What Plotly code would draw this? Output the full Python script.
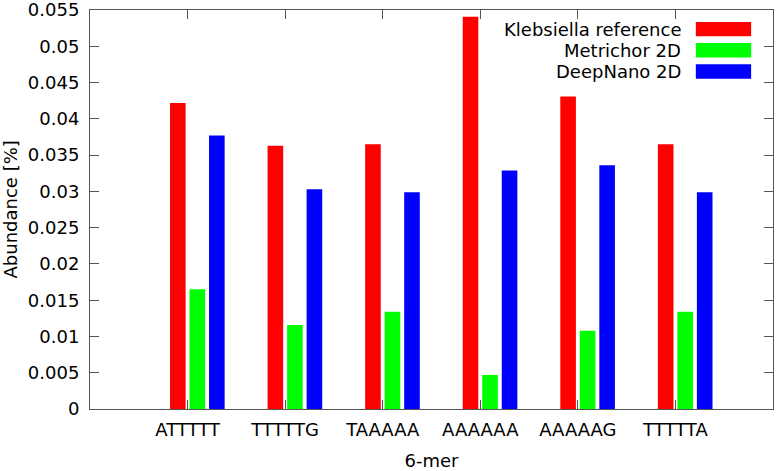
import plotly.graph_objects as go

categories = ["ATTTTT", "TTTTTG", "TAAAAA", "AAAAAA", "AAAAAG", "TTTTTA"]
klebsiella = [0.0422, 0.0363, 0.0365, 0.0541, 0.0431, 0.0365]
metrichor = [0.0165, 0.0116, 0.0134, 0.0047, 0.0108, 0.0134]
deepnano = [0.0377, 0.0303, 0.0299, 0.0329, 0.0336, 0.0299]
series_names = ["Klebsiella reference", "Metrichor 2D", "DeepNano 2D"]
colors = ["#ff0000", "#00ff00", "#0000ff"]
offsets = [-0.18, 0.02, 0.22]
y_ticks = [0, 0.005, 0.01, 0.015, 0.02, 0.025, 0.03, 0.035, 0.04, 0.045, 0.05, 0.055]
y_tick_labels = ["0", "0.005", "0.01", "0.015", "0.02", "0.025", "0.03", "0.035", "0.04", "0.045", "0.05", "0.055"]

FONT = "DejaVu Sans"
FS = 18
fig = go.Figure()
for name, vals, col, off in zip(series_names, [klebsiella, metrichor, deepnano], colors, offsets):
    fig.add_trace(go.Bar(
        x=categories, y=vals, name=name,
        marker=dict(color=col, line=dict(width=0)),
        width=0.16, offset=off, showlegend=False,
    ))

# gnuplot-style legend: text right-aligned, swatch on the right
leg_y = [0.952, 0.899, 0.846]
for name, col, yy in zip(series_names, colors, leg_y):
    fig.add_annotation(x=0.868, y=yy, xref="paper", yref="paper", text=name,
                       showarrow=False, xanchor="right", yanchor="middle",
                       font=dict(family=FONT, size=FS, color="black"))
    fig.add_shape(type="rect", xref="paper", yref="paper",
                  x0=0.887, x1=0.968, y0=yy - 0.018, y1=yy + 0.018,
                  fillcolor=col, line=dict(width=0))

# y-axis title placed like gnuplot's
fig.add_annotation(x=-0.1157, y=0.5, xref="paper", yref="paper", text="Abundance [%]",
                   textangle=-90, showarrow=False, xanchor="center", yanchor="middle",
                   font=dict(family=FONT, size=FS, color="black"))

axis_common = dict(showline=True, linecolor="#555555", linewidth=1, mirror="ticks",
                   ticks="inside", tickcolor="#555555", ticklen=9, showgrid=False,
                   zeroline=False, automargin=False, ticklabeloverflow="allow",
                   tickfont=dict(family=FONT, size=FS, color="black"))
fig.update_xaxes(type="category", range=[-1, 6], ticklabelstandoff=4,
                 title=dict(text="6-mer", font=dict(family=FONT, size=FS, color="black"), standoff=17),
                 **axis_common)
fig.update_yaxes(range=[0, 0.05502], tickvals=y_ticks, ticktext=y_tick_labels,
                 ticklabelstandoff=6,
                 **axis_common)
fig.update_layout(width=777, height=471, barmode="overlay",
                  margin=dict(l=90, r=4, t=10, b=62),
                  plot_bgcolor="white", paper_bgcolor="white",
                  font=dict(family=FONT, size=FS, color="black"))
fig.write_html("out.html", config={"displayModeBar": False},
               post_script="document.body.style.margin='0';document.body.style.overflow='hidden';")
